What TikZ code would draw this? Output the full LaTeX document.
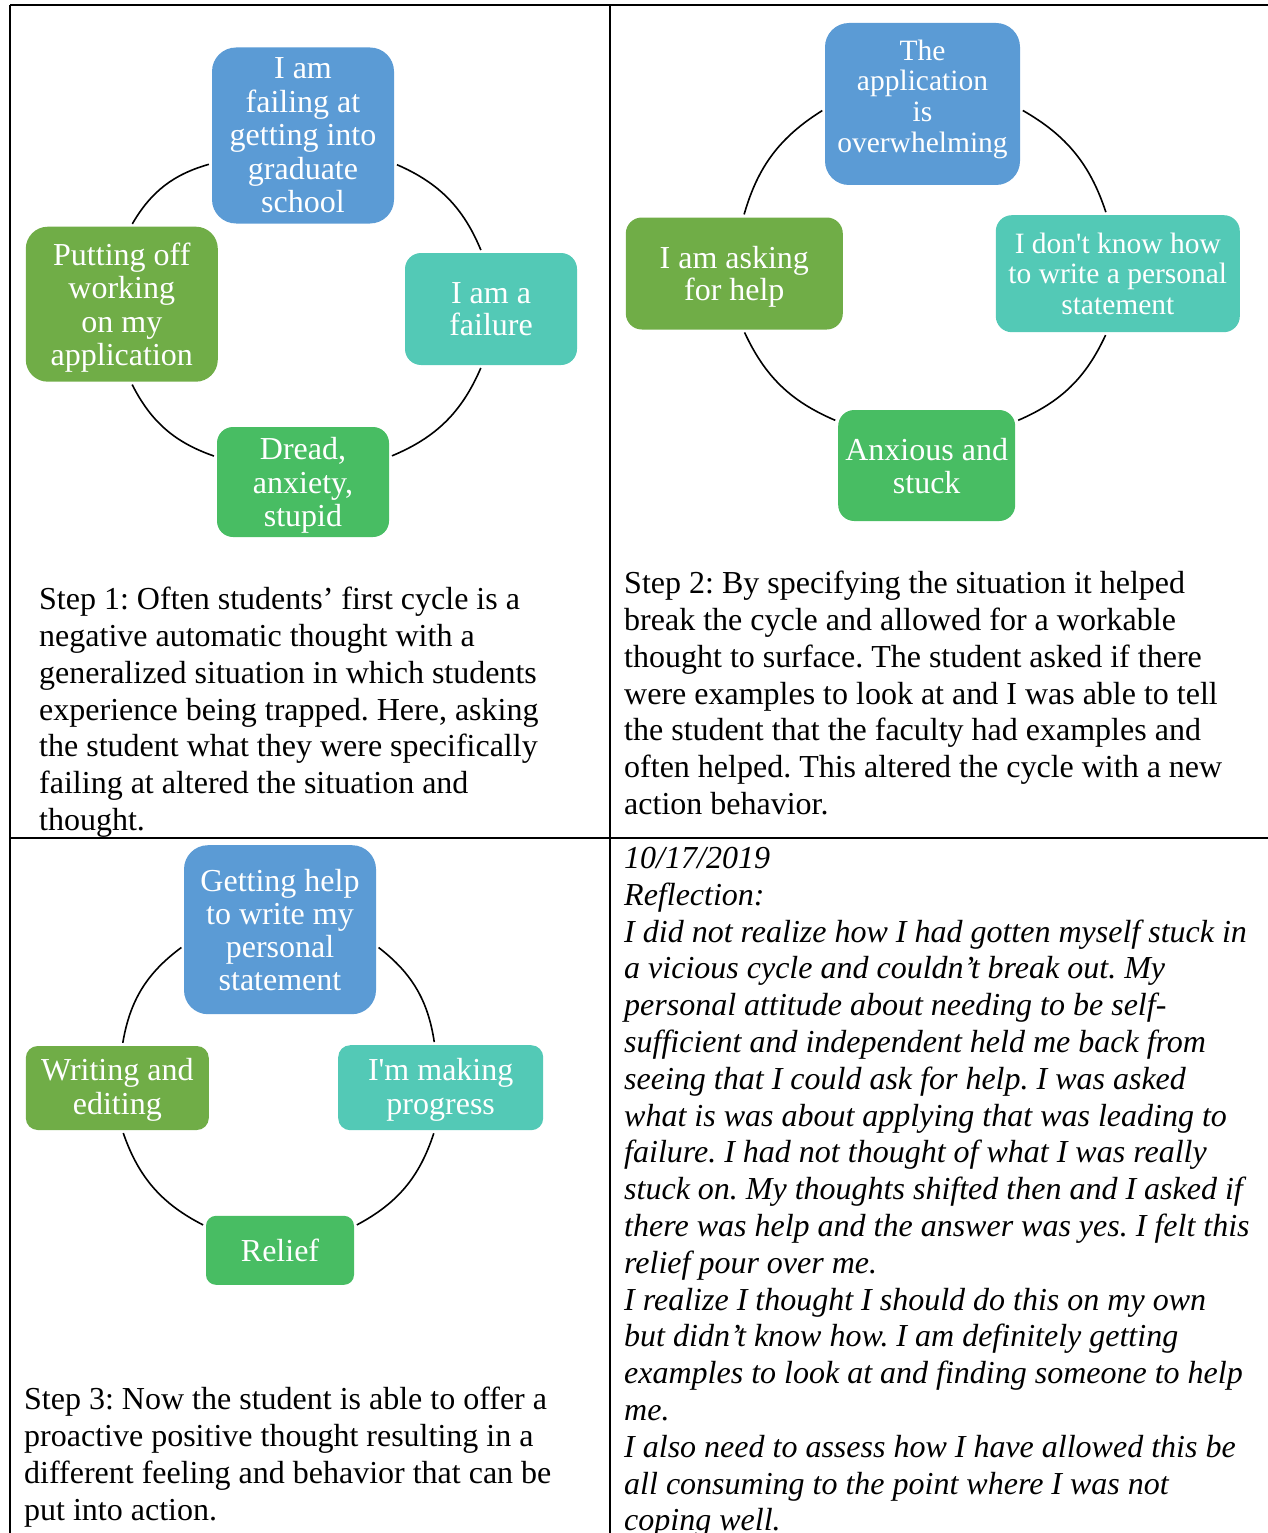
\documentclass[tikz,border=0pt]{standalone}
\usepackage{fontspec}
\setmainfont{Liberation Serif}
\usepackage{tikz}
\definecolor{thinkblue}{HTML}{5B9BD5}
\definecolor{feelteal}{HTML}{53C9B6}
\definecolor{bodygreen}{HTML}{48BD63}
\definecolor{actolive}{HTML}{70AD47}
\tikzstyle{cycbox} = [rectangle, rounded corners=16pt, text=white, align=center,
    inner sep=0pt]
\tikzstyle{thinkbox} = [cycbox, fill=thinkblue, rounded corners=24pt]
\tikzstyle{feelbox} = [cycbox, fill=feelteal]
\tikzstyle{bodybox} = [cycbox, fill=bodygreen]
\tikzstyle{actbox} = [cycbox, fill=actolive]
\tikzstyle{cycline} = [line width=1.6pt, shorten >=3pt, shorten <=3pt]
\tikzstyle{tblline} = [line width=2pt]
\tikzstyle{steptext} = [anchor=north west, align=left, inner sep=0pt,
    font=\fontsize{32}{36.8}\selectfont]
\frenchspacing

\begin{document}
\begin{tikzpicture}[x=1pt, y=-1pt]
                \useasboundingbox (0,0) rectangle (1268,1533);
                % table
                \draw[tblline] (10,5) -- (1268,5);
                \draw[tblline] (10,838) -- (1268,838);
                \draw[tblline] (10,5) -- (10,1533);
                \draw[tblline] (610,5) -- (610,1533);
                % step 1
                \node[thinkbox, minimum width=182pt, minimum height=176pt, text depth=-9pt,
                    font=\fontsize{32}{33.5}\selectfont] (t1) at (303,135.5)
                    {I am\\failing at\\getting into\\graduate\\school};
                \node[feelbox, minimum width=172pt, minimum height=112pt,
                    font=\fontsize{32}{32}\selectfont] (r1) at (491,309)
                    {I am a\\failure};
                \node[bodybox, minimum width=172pt, minimum height=110pt, text depth=-3pt,
                    font=\fontsize{32}{33.5}\selectfont] (b1) at (303,482)
                    {Dread,\\anxiety,\\stupid};
                \node[actbox, minimum width=192pt, minimum height=155pt, text depth=-15pt,
                    rounded corners=22pt, font=\fontsize{32}{33.5}\selectfont] (l1) at (121.8,304.2)
                    {Putting off\\working\\on my\\application};
                \draw[cycline] ([shift={(0,28)}]t1.east) to[bend left=22] ([shift={(-9,0)}]r1.north);
                \draw[cycline] ([shift={(-9,0)}]r1.south) to[bend left=22] ([shift={(0,-25)}]b1.east);
                \draw[cycline] ([shift={(0,-25)}]b1.west) to[bend left=22] ([shift={(9,0)}]l1.south);
                \draw[cycline] ([shift={(9,0)}]l1.north) to[bend left=22] ([shift={(0,28)}]t1.west);
                % step 2
                \node[thinkbox, minimum width=195pt, minimum height=162pt, text depth=16pt,
                    font=\fontsize{29.5}{30.7}\selectfont] (t2) at (922.5,104)
                    {The\\application\\is\\overwhelming};
                \node[feelbox, minimum width=244pt, minimum height=117pt, text depth=-16pt,
                    font=\fontsize{29.5}{30.5}\selectfont] (r2) at (1117.8,273.7)
                    {I don\textquotesingle t know how\\to write a personal\\statement};
                \node[bodybox, minimum width=177pt, minimum height=111pt, text depth=-26pt,
                    font=\fontsize{32}{33}\selectfont] (b2) at (926.7,465.5)
                    {Anxious and\\stuck};
                \node[actbox, minimum width=217pt, minimum height=112pt, text depth=-3pt,
                    font=\fontsize{32}{32}\selectfont] (l2) at (734.3,273.5)
                    {I am asking\\for help};
                \draw[cycline] ([shift={(0,5)}]t2.east) to[bend left=21] ([shift={(-11,0)}]r2.north);
                \draw[cycline] ([shift={(-11,0)}]r2.south) to[bend left=21] ([shift={(0,-44)}]b2.east);
                \draw[cycline] ([shift={(0,-44)}]b2.west) to[bend left=21] ([shift={(9,0)}]l2.south);
                \draw[cycline] ([shift={(9,0)}]l2.north) to[bend left=21] ([shift={(0,5)}]t2.west);
                % step 3
                \node[thinkbox, minimum width=192pt, minimum height=169pt, text depth=-6pt,
                    font=\fontsize{32}{33}\selectfont] (t3) at (280,929.7)
                    {Getting help\\to write my\\personal\\statement};
                \node[feelbox, minimum width=205pt, minimum height=85pt, text depth=3pt,
                    rounded corners=12pt, font=\fontsize{32}{34}\selectfont] (r3) at (440.7,1087.7)
                    {I\textquotesingle m making\\progress};
                \node[bodybox, minimum width=148pt, minimum height=69pt,
                    rounded corners=10pt, font=\fontsize{32}{34}\selectfont] (b3) at (280,1250.3)
                    {Relief};
                \node[actbox, minimum width=183pt, minimum height=84pt, text depth=3pt,
                    rounded corners=12pt, font=\fontsize{32}{34}\selectfont] (l3) at (117.3,1088)
                    {Writing and\\editing};
                \draw[cycline] ([shift={(0,16)}]t3.east) to[bend left=22] ([shift={(-6,0)}]r3.north);
                \draw[cycline] ([shift={(-6,0)}]r3.south) to[bend left=22] ([shift={(0,-24)}]b3.east);
                \draw[cycline] ([shift={(0,-24)}]b3.west) to[bend left=22] ([shift={(5,0)}]l3.south);
                \draw[cycline] ([shift={(5,0)}]l3.north) to[bend left=22] ([shift={(0,16)}]t3.west);
                % texts
                \node[steptext] (s1) at (39,587) {%
                    Step 1: Often students’ first cycle is a\\
                    negative automatic thought with a\\
                    generalized situation in which students\\
                    experience being trapped. Here, asking\\
                    the student what they were specifically\\
                    failing at altered the situation and\\
                    thought.};
                \node[steptext] (s2) at (624,571) {%
                    Step 2: By specifying the situation it helped\\
                    break the cycle and allowed for a workable\\
                    thought to surface. The student asked if there\\
                    were examples to look at and I was able to tell\\
                    the student that the faculty had examples and\\
                    often helped. This altered the cycle with a new\\
                    action behavior.};
                \node[steptext] (s3) at (24,1387) {%
                    Step 3: Now the student is able to offer a\\
                    proactive positive thought resulting in a\\
                    different feeling and behavior that can be\\
                    put into action.};
                \node[steptext, font=\fontsize{32}{36.8}\selectfont\itshape] (refl) at (624,847) {%
                    10/17/2019\\
                    Reflection:\\
                    I did not realize how I had gotten myself stuck in\\
                    a vicious cycle and couldn’t break out. My\\
                    personal attitude about needing to be self-\\
                    sufficient and independent held me back from\\
                    seeing that I could ask for help. I was asked\\
                    what is was about applying that was leading to\\
                    failure. I had not thought of what I was really\\
                    stuck on. My thoughts shifted then and I asked if\\
                    there was help and the answer was yes. I felt this\\
                    relief pour over me.\\
                    I realize I thought I should do this on my own\\
                    but didn’t know how. I am definitely getting\\
                    examples to look at and finding someone to help\\
                    me.\\
                    I also need to assess how I have allowed this be\\
                    all consuming to the point where I was not\\
                    coping well.};
            \end{tikzpicture}
\end{document}
